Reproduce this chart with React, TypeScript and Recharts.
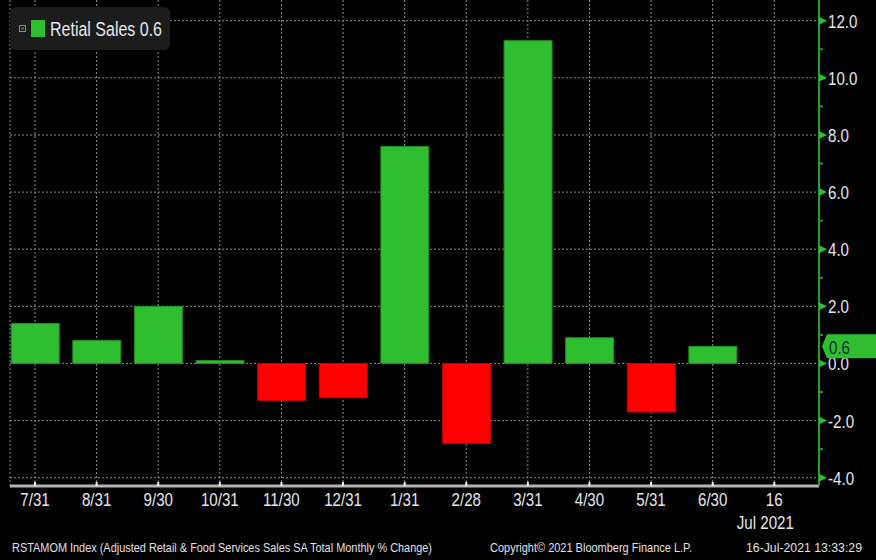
import React from "react";
import { BarChart, Bar, Cell, XAxis, YAxis, CartesianGrid } from "recharts";

const months = ["7/31", "8/31", "9/30", "10/31", "11/30", "12/31", "1/31", "2/28", "3/31", "4/30", "5/31", "6/30", "16"];
const retailSales = [1.4, 0.8, 2.0, 0.1, -1.3, -1.2, 7.6, -2.8, 11.3, 0.9, -1.7, 0.6, null];
const yMajor = [-4, -2, 0, 2, 4, 6, 8, 10, 12];
const yMinor = [-3, -1, 1, 3, 5, 7, 9, 11];
const lastValue = 0.6;

const data = months.map((month, i) => ({ idx: i, month, value: retailSales[i] }));

const FONT = '"Liberation Sans", Arial, sans-serif';
const GREEN = "#2fbe2f";
const AXIS_GREEN = "#2a9a2a";
const TEXT = "#e6e6ee";
const SQUEEZE = 0.84;

function NarrowText({ x, y, anchor = "start", size = 18, fill = TEXT, children }: any) {
  return (
    <text
      transform={`translate(${x},${y}) scale(${SQUEEZE},1)`}
      textAnchor={anchor}
      fill={fill}
      fontFamily={FONT}
      fontSize={size}
    >
      {children}
    </text>
  );
}

function XTick(props: any) {
  const { x, y, payload } = props;
  const label = months[payload.value];
  return (
    <g>
      <line x1={x} x2={x} y1={y - 4} y2={y} stroke="#f0f0f0" strokeWidth={2} />
      <NarrowText x={x} y={y + 20} anchor="middle">
        {label}
      </NarrowText>
      {payload.value === 12 && (
        <NarrowText x={x - 9} y={y + 43} anchor="middle">
          Jul 2021
        </NarrowText>
      )}
    </g>
  );
}

function YTick(props: any) {
  const { x, y, payload } = props;
  const v = payload.value;
  if (v === lastValue) {
    return (
      <g>
        <polygon
          points={`${x + 3},${y} ${x + 8},${y - 12} ${x + 57},${y - 12} ${x + 57},${y + 12} ${x + 8},${y + 12}`}
          fill={GREEN}
        />
        <NarrowText x={x + 10} y={y + 8} fill="#1c2a44" size={18}>
          {v.toFixed(1)}
        </NarrowText>
      </g>
    );
  }
  if (yMinor.includes(v)) {
    return <line x1={x} x2={x + 4} y1={y} y2={y} stroke={AXIS_GREEN} strokeWidth={2} />;
  }
  return (
    <g>
      <polygon points={`${x},${y - 4} ${x + 8},${y} ${x},${y + 4}`} fill={GREEN} />
      <NarrowText x={x + 9} y={y + 7}>{v.toFixed(1)}</NarrowText>
    </g>
  );
}

export default function App() {
  return (
    <div style={{ position: "absolute", left: 0, top: 0, width: 876, height: 560, background: "#000", overflow: "hidden" }}>
      <BarChart width={876} height={560} data={data} margin={{ top: 0, right: 0, bottom: 0, left: 10 }}>
        <CartesianGrid stroke="#8a8a8a" strokeDasharray="2 2" horizontalValues={yMajor} />
        <XAxis
          dataKey="idx"
          type="number"
          domain={[-0.406, 12.726]}
          allowDataOverflow
          ticks={months.map((_, i) => i)}
          interval={0}
          height={74}
          tickSize={0}
          tickMargin={0}
          tickLine={false}
          axisLine={{ stroke: "#b4b4b4", strokeWidth: 3 }}
          tick={<XTick />}
        />
        <YAxis
          orientation="right"
          width={57}
          domain={[-4.29, 12.725]}
          allowDataOverflow
          ticks={[...yMajor, ...yMinor, lastValue]}
          interval={0}
          tickSize={0}
          tickMargin={0}
          tickLine={false}
          axisLine={{ stroke: AXIS_GREEN, strokeWidth: 2 }}
          tick={<YTick />}
        />
        <Bar dataKey="value" barSize={48} isAnimationActive={false}>
          {data.map((d, i) => (
            <Cell
              key={i}
              fill={(d.value ?? 0) >= 0 ? GREEN : "#ff0000"}
              stroke={(d.value ?? 0) >= 0 ? "#1f8f1f" : "#c00000"}
              strokeWidth={1}
            />
          ))}
        </Bar>
      </BarChart>
      <svg width={876} height={560} style={{ position: "absolute", left: 0, top: 0, pointerEvents: "none" }}>
        {/* legend */}
        <rect x={10} y={7} width={160} height={43} rx={6} fill="#1c1c1c" />
        <rect x={19.5} y={25.5} width={6} height={6} fill="none" stroke="#8a8a8a" />
        <rect x={21.5} y={27.5} width={2} height={2} fill="#8a8a8a" />
        <rect x={31} y={20} width={14} height={17} fill={GREEN} />
        <text x={50} y={36} fill={TEXT} fontFamily={FONT} fontSize={20} textLength={112} lengthAdjust="spacingAndGlyphs">
          Retial Sales 0.6
        </text>
        {/* footer */}
        <text x={12} y={552} fill="#e0e0e8" fontFamily={FONT} fontSize={12.5} textLength={420} lengthAdjust="spacingAndGlyphs">
          RSTAMOM Index (Adjusted Retail &amp; Food Services Sales SA Total Monthly % Change)
        </text>
        <text x={490} y={552} fill="#e0e0e8" fontFamily={FONT} fontSize={12.5} textLength={202} lengthAdjust="spacingAndGlyphs">
          Copyright© 2021 Bloomberg Finance L.P.
        </text>
        <text x={746} y={552} fill="#e0e0e8" fontFamily={FONT} fontSize={12.5} textLength={116} lengthAdjust="spacingAndGlyphs">
          16-Jul-2021 13:33:29
        </text>
      </svg>
    </div>
  );
}
